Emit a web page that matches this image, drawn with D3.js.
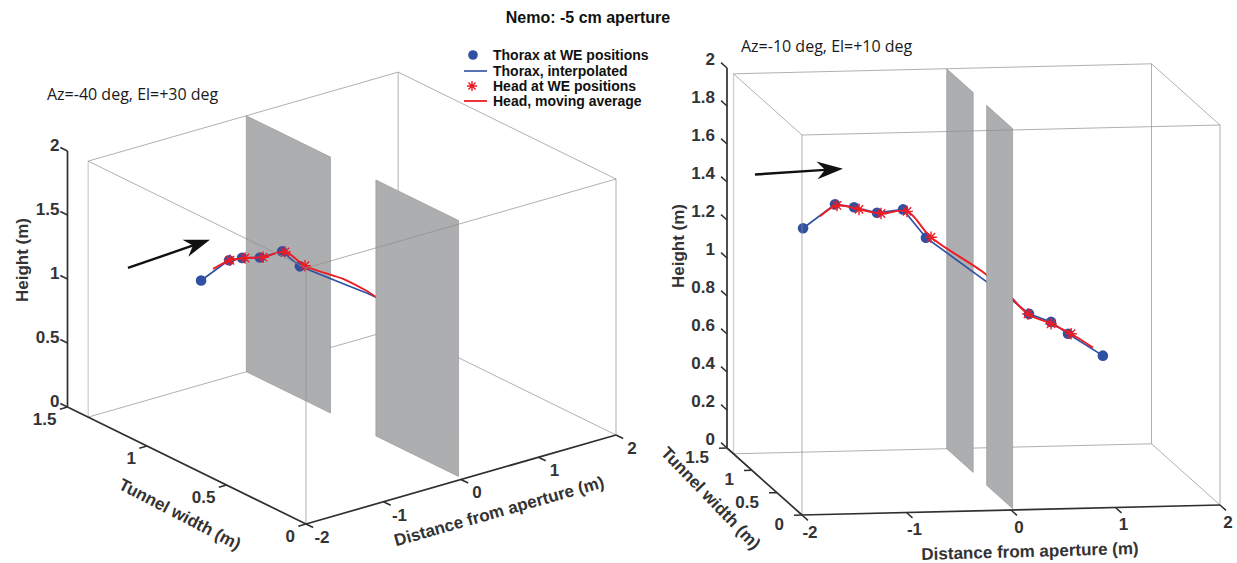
<!DOCTYPE html>
<html>
<head>
<meta charset="utf-8">
<script src="https://cdn.jsdelivr.net/npm/d3@7"></script>
<style>
  body { margin: 0; background: #ffffff; }
  .tick-label { font-family: "Liberation Sans", Arial, sans-serif; font-weight: bold; font-size: 17px; fill: #333333; }
  .axis-title { font-family: "Liberation Sans", Arial, sans-serif; font-weight: bold; font-size: 17px; fill: #333333; }
  .view-title { font-family: "Open Sans", sans-serif; font-size: 16px; fill: #1a1a1a; }
  .legend-text { font-family: "Liberation Sans", Arial, sans-serif; font-weight: bold; font-size: 14px; fill: #111111; }
  .main-title { font-family: "Liberation Sans", Arial, sans-serif; font-weight: bold; font-size: 16px; fill: #111111; }
</style>
</head>
<body>
<svg id="chart" width="1237" height="563"></svg>
<script>

// thorax at WE positions (x = distance from aperture, y = tunnel width, z = height), metres
var thoraxX = [-1.575, -1.286, -1.10, -0.883, -0.645, -0.429, 0.517, 0.718, 0.871, 1.19];
var thoraxY = [0.867, 0.832, 0.841, 0.834, 0.811, 0.804, 0.72, 0.70, 0.68, 0.65];
var thoraxZ = [1.30, 1.43, 1.41, 1.38, 1.40, 1.25, 0.856, 0.816, 0.756, 0.644];

// thorax, interpolated
var thoraxLineX = [-1.575, -1.286, -1.10, -0.883, -0.645, -0.429, 0.10, 0.33, 0.517, 0.718, 0.871, 1.19];
var thoraxLineY = [0.867, 0.832, 0.841, 0.834, 0.811, 0.804, 0.77, 0.75, 0.72, 0.70, 0.68, 0.65];
var thoraxLineZ = [1.30, 1.43, 1.41, 1.38, 1.40, 1.25, 1.033, 0.941, 0.856, 0.816, 0.756, 0.644];

// head at WE positions
var headX = [-1.265, -1.049, -0.845, -0.607, -0.386, 0.507, 0.718, 0.90];
var headY = [0.836, 0.847, 0.833, 0.811, 0.793, 0.72, 0.70, 0.68];
var headZ = [1.423, 1.397, 1.376, 1.389, 1.254, 0.856, 0.806, 0.756];

// head, moving average
var headAvgX = [-1.41, -1.265, -1.049, -0.845, -0.607, -0.386, 0.10, 0.33, 0.507, 0.718, 0.90, 1.10];
var headAvgY = [0.872, 0.836, 0.847, 0.833, 0.811, 0.793, 0.77, 0.75, 0.72, 0.70, 0.68, 0.66];
var headAvgZ = [1.359, 1.423, 1.397, 1.376, 1.389, 1.254, 1.07, 0.956, 0.856, 0.806, 0.756, 0.685];

// tunnel and the two walls of the aperture
var tunnelX = [-2, 2];
var tunnelW = 1.37;
var tunnelH = 2;
var panelX = [0.04, 0.03];
var panelY0 = [0.84, 0.03];
var panelY1 = [1.37, 0.55];

// ticks
var xTicks = [-2, -1, 0, 1, 2];
var yTicks = [0, 0.5, 1, 1.5];
var zTicksLeft = [0, 0.5, 1, 1.5, 2];
var zTicksRight = [0, 0.2, 0.4, 0.6, 0.8, 1, 1.2, 1.4, 1.6, 1.8, 2];

// flight direction arrows (one per view)
var arrowStartLeft = [-1.63, 1.3, 1.144];
var arrowEndLeft = [-0.572, 1.3, 1.181];
var arrowStartRight = [-1.828, 1.3, 1.484];
var arrowEndRight = [-0.986, 1.3, 1.504];

var legendLabels = ["Thorax at WE positions", "Thorax, interpolated", "Head at WE positions", "Head, moving average"];

var blue = "#2f50a3";
var red = "#ec1c24";

window.onload = function() {
  main();
};

function main() {
  var svg = d3.select("#chart");

  var xScale = d3.scaleLinear().domain([-2, 2]).range([0, 1]);
  var yScale = d3.scaleLinear().domain([0, 1.5]).range([0, 1]);
  var zScale = d3.scaleLinear().domain([0, 2]).range([0, 1]);

  var views = [
    {
      origin: [306, 524], vx: [310, -89], vy: [-238.5, -117], vz: [0, -256],
      zTicks: zTicksLeft,
      xLab: {dx: 16, dy: 13, anchor: "middle"},
      yLab: {dx: -11, dy: 12.5, anchor: "end"},
      zLab: {dx: -8, dy: -6, anchor: "end"},
      title: {text: "Az=-40 deg, El=+30 deg", x: 47, y: 100},
      labels: [
        {text: "Height (m)", x: 22, y: 260, angle: -90},
        {text: "Tunnel width (m)", x: 180, y: 514, angle: 27.5},
        {text: "Distance from aperture (m)", x: 499, y: 511, angle: -15.8}
      ],
      arrow: [arrowStartLeft, arrowEndLeft]
    },
    {
      origin: [802, 515], vx: [418, -10], vy: [-75, -67], vz: [0, -380],
      zTicks: zTicksRight,
      xLab: {dx: 8, dy: 17, anchor: "middle"},
      yLab: {dx: -18, dy: 9, anchor: "end"},
      zLab: {dx: -12, dy: -9, anchor: "end"},
      title: {text: "Az=-10 deg, El=+10 deg", x: 741, y: 52},
      labels: [
        {text: "Height (m)", x: 678, y: 246, angle: -90},
        {text: "Tunnel width (m)", x: 711, y: 498, angle: 46},
        {text: "Distance from aperture (m)", x: 1030, y: 551, angle: -1.6}
      ],
      arrow: [arrowStartRight, arrowEndRight]
    }
  ];

  views.forEach(function(v) {
    drawView(v);
  });

  function drawView(v) {
    function P(x, y, z) {
      return [v.origin[0] + xScale(x) * v.vx[0] + yScale(y) * v.vy[0] + zScale(z) * v.vz[0],
              v.origin[1] + xScale(x) * v.vx[1] + yScale(y) * v.vy[1] + zScale(z) * v.vz[1]];
    }
    function corner(c) {
      return P(tunnelX[c[0]], c[1] ? tunnelW : 0, c[2] ? tunnelH : 0);
    }
    function unit(vec, sign) {
      var l = Math.sqrt(vec[0] * vec[0] + vec[1] * vec[1]);
      return [sign * vec[0] / l, sign * vec[1] / l];
    }
    var line = d3.line();
    var smooth = d3.line().curve(d3.curveCatmullRom.alpha(0.5));
    var g = svg.append("g");

    // back edges of the tunnel box
    var backEdges = [
      [[0, 1, 1], [1, 1, 1]], [[1, 1, 1], [1, 0, 1]], [[0, 1, 0], [1, 1, 0]],
      [[1, 1, 0], [1, 1, 1]], [[1, 0, 0], [1, 1, 0]]
    ];
    g.selectAll(".back-edge")
     .data(backEdges)
     .enter()
     .append("path")
     .attr("class", "back-edge")
     .attr("d", function(e) { return line([corner(e[0]), corner(e[1])]); })
     .attr("stroke", "#8e8e8e")
     .attr("stroke-width", 0.7)
     .attr("fill", "none");

    g.append("path")
     .attr("d", line([corner([0, 1, 0]), corner([0, 1, 1])]))
     .attr("stroke", "#cfcfcf")
     .attr("stroke-width", 1.3)
     .attr("fill", "none");

    function panel(i) {
      return [P(panelX[i], panelY0[i], 0), P(panelX[i], panelY1[i], 0),
              P(panelX[i], panelY1[i], tunnelH), P(panelX[i], panelY0[i], tunnelH)];
    }
    function drawPanel(i) {
      g.append("path")
       .attr("d", line(panel(i)) + "Z")
       .attr("fill", "#adaeb0")
       .attr("stroke", "#8f9092")
       .attr("stroke-width", 0.6);
    }

    // far wall
    drawPanel(0);

    // trajectories
    var thoraxLine = thoraxLineX.map(function(d, i) { return P(d, thoraxLineY[i], thoraxLineZ[i]); });
    var headLine = headAvgX.map(function(d, i) { return P(d, headAvgY[i], headAvgZ[i]); });

    g.append("path")
     .attr("d", line(thoraxLine))
     .attr("fill", "none")
     .attr("stroke", blue)
     .attr("stroke-width", 1.7);

    g.selectAll(".thorax")
     .data(thoraxX)
     .enter()
     .append("circle")
     .attr("class", "thorax")
     .attr("cx", function(d, i) { return P(d, thoraxY[i], thoraxZ[i])[0]; })
     .attr("cy", function(d, i) { return P(d, thoraxY[i], thoraxZ[i])[1]; })
     .attr("r", 5.3)
     .attr("fill", blue);

    g.append("path")
     .attr("d", smooth(headLine))
     .attr("fill", "none")
     .attr("stroke", red)
     .attr("stroke-width", 1.9);

    g.selectAll(".head")
     .data(headX)
     .enter()
     .append("path")
     .attr("class", "head")
     .attr("transform", function(d, i) {
       var p = P(d, headY[i], headZ[i]);
       return "translate(" + p[0] + "," + p[1] + ")";
     })
     .attr("d", starPath(5.8))
     .attr("stroke", red)
     .attr("stroke-width", 1.4)
     .attr("fill", "none");

    // near wall
    drawPanel(1);

    // front edges of the tunnel box
    var frontEdges = [
      [[0, 0, 0], [0, 0, 1]], [[0, 0, 1], [1, 0, 1]], [[0, 0, 1], [0, 1, 1]], [[1, 0, 0], [1, 0, 1]]
    ];
    g.selectAll(".front-edge")
     .data(frontEdges)
     .enter()
     .append("path")
     .attr("class", "front-edge")
     .attr("d", function(e) { return line([corner(e[0]), corner(e[1])]); })
     .attr("stroke", "#8e8e8e")
     .attr("stroke-width", 0.7)
     .attr("fill", "none");

    // axes
    var axisColor = "#2f2f2f";
    var yMax = yScale.domain()[1];
    var zMax = zScale.domain()[1];
    g.append("path")
     .attr("d", line([P(-2, 0, 0), P(2, 0, 0)]) + line([P(-2, 0, 0), P(-2, yMax, 0)]) + line([P(-2, yMax, 0), P(-2, yMax, zMax)]))
     .attr("fill", "none")
     .attr("stroke", axisColor)
     .attr("stroke-width", 1.7);

    var tickLen = 8;
    var xDir = unit(v.vy, -1);
    var yDir = unit(v.vx, -1);
    var zDir = unit(v.vy, 1);

    function drawTicks(ticks, rootFn, dir, lab, cls) {
      g.selectAll("." + cls + "-tick")
       .data(ticks)
       .enter()
       .append("path")
       .attr("class", cls + "-tick")
       .attr("d", function(d) {
         var r = rootFn(d);
         return line([r, [r[0] + dir[0] * tickLen, r[1] + dir[1] * tickLen]]);
       })
       .attr("stroke", axisColor)
       .attr("stroke-width", 1.5);
      g.selectAll("." + cls + "-lab")
       .data(ticks)
       .enter()
       .append("text")
       .attr("class", "tick-label " + cls + "-lab")
       .attr("x", function(d) { return rootFn(d)[0] + lab.dx; })
       .attr("y", function(d) { return rootFn(d)[1] + lab.dy; })
       .attr("dy", "0.35em")
       .attr("text-anchor", lab.anchor)
       .text(function(d) { return String(d); });
    }
    drawTicks(xTicks, function(d) { return P(d, 0, 0); }, xDir, v.xLab, "xt");
    drawTicks(yTicks, function(d) { return P(-2, d, 0); }, yDir, v.yLab, "yt");
    drawTicks(v.zTicks, function(d) { return P(-2, yMax, d); }, zDir, v.zLab, "zt");

    g.selectAll(".axis-title")
     .data(v.labels)
     .enter()
     .append("text")
     .attr("class", "axis-title")
     .attr("text-anchor", "middle")
     .attr("dy", "0.35em")
     .attr("transform", function(d) {
       return "translate(" + d.x + "," + d.y + ") rotate(" + d.angle + ")";
     })
     .text(function(d) { return d.text; });

    g.append("text")
     .attr("class", "view-title")
     .attr("x", v.title.x)
     .attr("y", v.title.y)
     .text(v.title.text);

    // arrow
    var a0 = P(v.arrow[0][0], v.arrow[0][1], v.arrow[0][2]);
    var a1 = P(v.arrow[1][0], v.arrow[1][1], v.arrow[1][2]);
    var u = unit([a1[0] - a0[0], a1[1] - a0[1]], 1);
    var n = [-u[1], u[0]];
    var headLen = 26, headW = 9, indent = 8;
    g.append("path")
     .attr("d", line([a0, [a1[0] - u[0] * 14, a1[1] - u[1] * 14]]))
     .attr("stroke", "#111111")
     .attr("stroke-width", 2.4)
     .attr("fill", "none");
    g.append("path")
     .attr("d", line([
       a1,
       [a1[0] - u[0] * headLen + n[0] * headW, a1[1] - u[1] * headLen + n[1] * headW],
       [a1[0] - u[0] * (headLen - indent), a1[1] - u[1] * (headLen - indent)],
       [a1[0] - u[0] * headLen - n[0] * headW, a1[1] - u[1] * headLen - n[1] * headW]
     ]) + "Z")
     .attr("fill", "#111111");
  }

  // title
  svg.append("text")
     .attr("class", "main-title")
     .attr("x", 588)
     .attr("y", 23)
     .attr("text-anchor", "middle")
     .text("Nemo: -5 cm aperture");

  // legend
  var legendY = [55, 71, 86, 101];
  var legend = svg.append("g");
  legend.append("circle")
        .attr("cx", 473).attr("cy", legendY[0]).attr("r", 4.8).attr("fill", blue);
  legend.append("path")
        .attr("d", d3.line()([[464, legendY[1]], [487, legendY[1]]]))
        .attr("stroke", blue).attr("stroke-width", 1.6);
  legend.append("path")
        .attr("transform", "translate(472," + legendY[2] + ")")
        .attr("d", starPath(5))
        .attr("stroke", red).attr("stroke-width", 1.4).attr("fill", "none");
  legend.append("path")
        .attr("d", d3.line()([[464, legendY[3]], [487, legendY[3]]]))
        .attr("stroke", red).attr("stroke-width", 1.8);
  legend.selectAll(".legend-text")
        .data(legendLabels)
        .enter()
        .append("text")
        .attr("class", "legend-text")
        .attr("x", 493)
        .attr("y", function(d, i) { return legendY[i]; })
        .attr("dy", "0.35em")
        .text(function(d) { return d; });
}

function starPath(r) {
  var s = r * 0.72;
  return "M" + (-r) + ",0L" + r + ",0M0," + (-r) + "L0," + r +
         "M" + (-s) + "," + (-s) + "L" + s + "," + s + "M" + (-s) + "," + s + "L" + s + "," + (-s);
}

</script>
</body>
</html>
